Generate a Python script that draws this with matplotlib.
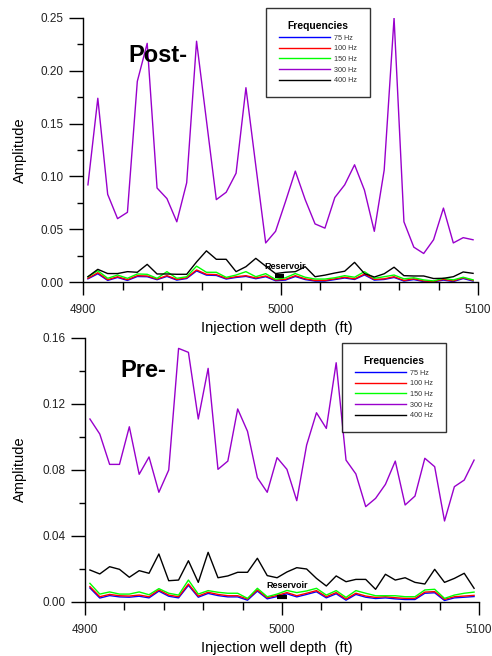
import matplotlib
matplotlib.use('Agg')
import matplotlib.pyplot as plt
import numpy as np

plt.rcParams['font.family'] = ['Liberation Sans', 'DejaVu Sans']

# sample depths (ft), one every 5 ft
depth = np.arange(4902.5, 5100, 5.0)

freq_labels = ['75 Hz', '100 Hz', '150 Hz', '300 Hz', '400 Hz']
freq_colors = ['#0000ff', '#ff0000', '#00ff00', '#9900cc', '#000000']

# Post-injection amplitudes
post_75 = [0.003, 0.0078, 0.0015, 0.0043, 0.0015, 0.0052, 0.005, 0.0022, 0.0053, 0.0018,
           0.0033, 0.0105, 0.0065, 0.0062, 0.0028, 0.0043, 0.0053, 0.0031, 0.005, 0.0012,
           0.0018, 0.0052, 0.0023, 0.0009, 0.0009, 0.0023, 0.0038, 0.0024, 0.0067, 0.0018,
           0.0024, 0.0043, 0.0009, 0.0023, 0.0004, 0.0002, 0.0018, 0.0004, 0.0033, 0.0009]
post_100 = [0.0035, 0.0088, 0.0022, 0.005, 0.0022, 0.006, 0.0057, 0.0028, 0.006, 0.0025,
            0.004, 0.0114, 0.0073, 0.007, 0.0035, 0.005, 0.006, 0.0038, 0.0057, 0.0019,
            0.0025, 0.006, 0.003, 0.0015, 0.0015, 0.003, 0.0045, 0.003, 0.0075, 0.0025,
            0.003, 0.005, 0.0015, 0.003, 0.001, 0.0005, 0.0025, 0.001, 0.004, 0.0015]
post_150 = [0.005, 0.0107, 0.0035, 0.0066, 0.0035, 0.0076, 0.0073, 0.0035, 0.0098, 0.0035,
            0.005, 0.0150, 0.0092, 0.0092, 0.0044, 0.0066, 0.0098, 0.005, 0.0079, 0.0025,
            0.004, 0.008, 0.0045, 0.0028, 0.0028, 0.004, 0.006, 0.0045, 0.0098, 0.0035,
            0.005, 0.0066, 0.003, 0.004, 0.002, 0.001, 0.0035, 0.002, 0.0045, 0.002]
post_300 = [0.092, 0.174, 0.083, 0.060, 0.066, 0.190, 0.226, 0.089, 0.079, 0.057,
            0.094, 0.228, 0.153, 0.078, 0.085, 0.103, 0.184, 0.110, 0.037, 0.048,
            0.076, 0.105, 0.078, 0.055, 0.051, 0.080, 0.092, 0.111, 0.087, 0.048,
            0.106, 0.250, 0.057, 0.033, 0.027, 0.040, 0.070, 0.037, 0.042, 0.040]
post_400 = [0.005, 0.012, 0.008, 0.008, 0.0098, 0.0092, 0.0167, 0.0076, 0.0076, 0.0073,
            0.0073, 0.0190, 0.0295, 0.0215, 0.0215, 0.0098, 0.0145, 0.0224, 0.0150, 0.0080,
            0.0092, 0.0098, 0.0145, 0.0050, 0.0065, 0.0085, 0.0102, 0.0186, 0.0080, 0.0047,
            0.0078, 0.0140, 0.0060, 0.0057, 0.0057, 0.0033, 0.0035, 0.0050, 0.0095, 0.0082]

# Pre-injection amplitudes
pre_75 = [0.0085, 0.0024, 0.0039, 0.0031, 0.0029, 0.0035, 0.0025, 0.0066, 0.0035, 0.0025,
          0.0101, 0.0029, 0.0052, 0.0039, 0.0031, 0.0031, 0.0011, 0.0066, 0.0019, 0.0033,
          0.005, 0.0031, 0.0046, 0.0062, 0.0025, 0.005, 0.0011, 0.0046, 0.0029, 0.0021,
          0.0025, 0.0019, 0.0015, 0.0015, 0.0053, 0.0056, 0.0009, 0.0025, 0.0029, 0.0033]
pre_100 = [0.0093, 0.0032, 0.0046, 0.0038, 0.0036, 0.0042, 0.0032, 0.0073, 0.0042, 0.0032,
           0.0109, 0.0036, 0.0059, 0.0046, 0.0038, 0.0038, 0.0018, 0.0073, 0.0026, 0.004,
           0.0057, 0.0038, 0.0053, 0.0069, 0.0032, 0.0057, 0.0018, 0.0053, 0.0036, 0.0028,
           0.0032, 0.0026, 0.0022, 0.0022, 0.006, 0.0063, 0.0016, 0.0032, 0.0036, 0.004]
pre_150 = [0.0113, 0.0048, 0.0061, 0.0048, 0.0048, 0.0061, 0.0044, 0.0081, 0.0053, 0.0042,
           0.0133, 0.0048, 0.0069, 0.0059, 0.0053, 0.0053, 0.0022, 0.0083, 0.0032, 0.0048,
           0.007, 0.0057, 0.0067, 0.0083, 0.0042, 0.0069, 0.0028, 0.0069, 0.0053, 0.0038,
           0.0038, 0.0038, 0.0032, 0.0032, 0.0073, 0.0077, 0.0022, 0.0042, 0.0053, 0.006]
pre_300 = [0.1109, 0.1018, 0.0834, 0.0834, 0.1062, 0.0774, 0.0879, 0.0665, 0.080, 0.1537,
           0.1513, 0.1109, 0.1416, 0.0804, 0.0854, 0.117, 0.1034, 0.0753, 0.0665, 0.0875,
           0.0804, 0.0614, 0.0951, 0.1147, 0.1052, 0.145, 0.086, 0.0776, 0.0578, 0.0628,
           0.0713, 0.0854, 0.0588, 0.0642, 0.0871, 0.082, 0.0491, 0.0699, 0.0739, 0.086]
pre_400 = [0.0194, 0.017, 0.0214, 0.0198, 0.015, 0.019, 0.0174, 0.0291, 0.0129, 0.0133,
           0.025, 0.0119, 0.0301, 0.0147, 0.0158, 0.018, 0.018, 0.0265, 0.016, 0.0147,
           0.0182, 0.0208, 0.020, 0.0143, 0.0097, 0.0158, 0.0123, 0.0137, 0.0137, 0.0077,
           0.0168, 0.0133, 0.0147, 0.0119, 0.0109, 0.0198, 0.0119, 0.0143, 0.0174, 0.0083]

W, H = 492, 656
fig = plt.figure(figsize=(W / 100, H / 100), dpi=100)


def px_rect(left, top, right, bottom):
    return [left / W, 1 - bottom / H, (right - left) / W, (bottom - top) / H]


def draw_panel(rect, series, ymax, ymajor, yminor, yfmt, title, title_xy,
               leg_xy, res_xy, res_bar):
    ax = fig.add_axes(rect)
    for vals, lab, col in zip(series, freq_labels, freq_colors):
        ax.plot(depth, vals, color=col, lw=1.0, label=lab)
    ax.set_xlim(4900, 5100)
    ax.set_ylim(0, ymax)
    for s in ['top', 'right']:
        ax.spines[s].set_visible(False)
    ax.spines['left'].set_linewidth(1.0)
    ax.spines['bottom'].set_linewidth(1.0)
    ax.set_xticks([4900, 5000, 5100])
    ax.set_xticks(np.arange(4920, 5100, 20), minor=True)
    ax.set_yticks(np.arange(0, ymax + 1e-9, ymajor))
    ax.set_yticks(np.arange(0, ymax + 1e-9, yminor), minor=True)
    ax.set_yticklabels([yfmt.format(v) for v in np.arange(0, ymax + 1e-9, ymajor)])
    ax.tick_params(axis='x', which='major', length=9.5, width=1.0, pad=6, labelsize=8.5)
    ax.tick_params(axis='x', which='minor', length=5.5, width=1.0)
    ax.tick_params(axis='y', which='major', length=10, width=1.0, pad=4, labelsize=8.5)
    ax.tick_params(axis='y', which='minor', length=4.5, width=1.0)
    for lbl in ax.get_xticklabels() + ax.get_yticklabels():
        lbl.set_color('#222222')

    ax.text(title_xy[0], title_xy[1], title, fontsize=17, fontweight='bold',
            ha='left', va='baseline')
    ax.text(res_xy[0], res_xy[1], 'Reservoir', fontsize=6.5, fontweight='bold',
            ha='left', va='center')
    ax.plot(res_bar[0], res_bar[1], color='black', lw=3, solid_capstyle='butt')

    leg = ax.legend(loc='upper left', bbox_to_anchor=leg_xy,
                    bbox_transform=fig.transFigure, title='Frequencies',
                    fontsize=5.2, title_fontproperties={'weight': 'bold', 'size': 7.4},
                    frameon=True, fancybox=False, edgecolor='black',
                    handlelength=7.0, handletextpad=0.6, labelspacing=0.5,
                    borderpad=1.8, borderaxespad=0)
    leg.get_frame().set_linewidth(1.0)
    for t in leg.get_texts():
        t.set_color('#333333')
    return ax


ax1 = draw_panel(px_rect(83, 18, 478, 282),
                 [post_75, post_100, post_150, post_300, post_400],
                 0.25, 0.05, 0.025, '{:.2f}', 'Post-', (4922.8, 0.208),
                 (266 / W, 1 - 8 / H), (4992, 0.0150), ([4997, 5002], [0.0057, 0.0057]))
ax2 = draw_panel(px_rect(85, 338, 479, 602),
                 [pre_75, pre_100, pre_150, pre_300, pre_400],
                 0.16, 0.04, 0.02, '{:.2f}', 'Pre-', (4917.8, 0.1362),
                 (342 / W, 1 - 343 / H), (4992, 0.0099), ([4997.5, 5002.5], [0.0032, 0.0032]))

fig.text(20 / W, 1 - 150 / H, 'Amplitude', rotation=90, ha='center', va='center', fontsize=10.5)
fig.text(20 / W, 1 - 469 / H, 'Amplitude', rotation=90, ha='center', va='center', fontsize=10.5)
fig.text(277 / W, 1 - 328 / H, 'Injection well depth  (ft)', ha='center', va='center', fontsize=10.5)
fig.text(277 / W, 1 - 648 / H, 'Injection well depth  (ft)', ha='center', va='center', fontsize=10.5)

fig.savefig('out.png', dpi=100)
